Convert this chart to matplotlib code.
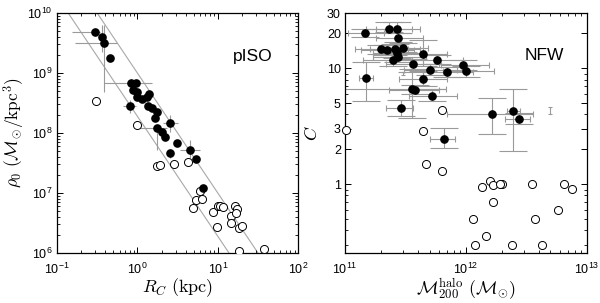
import numpy as np
import matplotlib
matplotlib.use("Agg")
import matplotlib.pyplot as plt
from matplotlib.ticker import FixedLocator, FixedFormatter, LogLocator, NullFormatter

plt.rcParams["font.family"] = ["Liberation Sans", "DejaVu Sans"]
plt.rcParams["mathtext.fontset"] = "cm"

# ---------------- pISO (left) ----------------
rc_fill = [0.296, 0.359, 0.387, 0.455, 0.823, 0.958, 0.887, 0.99, 0.977, 1.13,
           1.30, 1.39, 0.807, 1.34, 1.50, 1.75, 1.65, 1.73, 2.0, 2.21,
           2.55, 3.14, 2.58, 4.49, 5.33, 6.52]
rho_fill = [4.77e9, 4.03e9, 3.13e9, 1.8e9, 6.73e8, 6.73e8, 5.2e8, 4.88e8, 4.03e8, 3.69e8,
            4.03e8, 4.47e8, 2.82e8, 2.77e8, 2.58e8, 2.27e8, 1.76e8, 1.2e8, 1.05e8, 8.68e7,
            1.49e8, 6.73e7, 4.59e7, 5.31e7, 3.76e7, 1.22e7]

rc_open = [0.303, 0.994, 1.77, 1.89, 2.88, 4.21, 6.01, 5.43, 6.29, 4.93,
           8.75, 10.1, 10.8, 11.6, 9.86, 16.5, 17.4, 14.7, 16.7, 14.4,
           18.2, 19.9, 18.3, 37.6]
rho_open = [3.42e8, 1.37e8, 2.85e7, 2.93e7, 3.01e7, 3.25e7, 1.08e7, 7.64e6, 8.04e6, 5.69e6,
            4.77e6, 6.0e6, 6.07e6, 5.91e6, 2.73e6, 6.07e6, 5.47e6, 4.09e6, 4.59e6, 3.2e6,
            2.66e6, 2.87e6, 1.08e6, 1.17e6]

# error bars for some filled points: index, R low/high, rho low/high
err_idx = [0, 1, 2, 4, 12, 17, 20, 22, 23]
err_rlo = [0.153, 0.359, 0.167, 0.384, 0.66, 1.07, 2.07, 2.58, 3.37]
err_rhi = [0.342, 0.359, 0.556, 1.51, 0.957, 2.32, 3.18, 2.58, 5.97]
err_dlo = [4.77e9, 2.24e9, 4.8e8, 6.73e8, 2.15e8, 5.2e7, 1.04e8, 3.9e7, 3.8e7]
err_dhi = [4.77e9, 6.3e9, 6.3e9, 6.73e8, 3.55e8, 1.2e8, 2.0e8, 5.4e7, 7.6e7]

# guide lines rho = A * R^-2
line_amp = [1.0e9, 1.9e8]
line_r = [0.05, 200.0]

# ---------------- NFW (right) ----------------
m_fill = [1.46e11, 2.32e11, 2.71e11, 2.76e11, 1.97e11, 2.24e11, 2.59e11, 3.0e11, 2.71e11, 2.76e11,
          2.48e11, 4.38e11, 5.79e11, 3.66e11, 9.5e11, 1.0e12, 5.04e11, 6.92e11, 1.48e11, 4.43e11,
          3.56e11, 3.79e11, 5.24e11, 2.92e11, 6.58e11, 1.65e12, 2.46e12, 2.74e12]
c_fill = [20.2, 22.0, 22.0, 18.4, 14.6, 14.5, 14.8, 15.1, 13.6, 12.5,
          11.7, 13.4, 11.9, 10.8, 10.6, 9.5, 9.75, 9.29, 8.31, 8.15,
          6.68, 6.55, 5.82, 4.58, 2.48, 4.07, 4.26, 3.63]
c_lo = [18.5, 20.5, 20.0, 16.8, 13.3, 13.0, 13.3, 13.7, 12.3, 11.3,
        10.5, 10.5, 10.8, 9.8, 9.6, 8.5, 8.8, 8.4, 5.2, 7.0,
        3.7, 6.0, 5.2, 3.9, 2.04, 2.7, 1.92, 3.29]
c_hi = [21.7, 25.0, 25.0, 20.0, 16.0, 16.0, 16.3, 16.7, 15.0, 13.8,
        13.0, 17.5, 13.0, 12.0, 11.7, 10.5, 10.8, 10.3, 11.3, 9.5,
        9.3, 7.2, 6.6, 5.3, 3.04, 5.5, 6.6, 4.09]
m_lo = [1.05e11, 1.5e11, 1.8e11, 1.8e11, 1.2e11, 1.35e11, 1.6e11, 1.9e11, 1.7e11, 1.7e11,
        1.4e11, 2.8e11, 3.6e11, 2.2e11, 6.2e11, 6.5e11, 3.1e11, 4.4e11, 1.3e11, 2.8e11,
        0.9e11, 2.3e11, 3.4e11, 2.2e11, 5.0e11, 7.0e11, 2.2e12, 2.1e12]
m_hi = [2.1e11, 3.6e11, 4.2e11, 4.4e11, 3.3e11, 3.7e11, 4.2e11, 4.9e11, 4.6e11, 4.7e11,
        4.4e11, 7.0e11, 9.5e11, 6.0e11, 1.55e12, 1.7e12, 8.5e11, 1.15e12, 1.7e11, 7.0e11,
        6.9e11, 6.0e11, 8.5e11, 3.66e11, 8.1e11, 3.6e12, 2.8e12, 3.4e12]

# error bars drawn without a marker
m_bare = [3.0e11, 4.94e12]
c_bare = [9.06, 4.3]
c_bare_lo = [8.8, 4.0]
c_bare_hi = [9.3, 4.6]

m_open = [1.02e11, 6.3e11, 4.43e11, 4.67e11, 6.3e11, 1.58e12, 1.37e12, 1.66e12, 1.97e12, 1.92e12,
          3.53e12, 6.49e12, 7.48e12, 1.68e12, 5.79e12, 1.15e12, 3.71e12, 1.48e12, 1.19e12, 2.39e12,
          4.3e12]
c_open = [2.96, 4.37, 2.86, 1.48, 1.29, 1.07, 0.94, 0.98, 1.0, 1.0,
          1.0, 1.0, 0.918, 0.705, 0.597, 0.499, 0.499, 0.356, 0.298, 0.298,
          0.298]

c_ticks = [1, 2, 3, 5, 10, 20, 30]

gray = "#9a9a9a"

fig = plt.figure(figsize=(6.0, 3.03), dpi=100)
ax1 = fig.add_axes([0.095, 0.165, 0.402, 0.792])
ax2 = fig.add_axes([0.575, 0.165, 0.403, 0.792])

# ---- left ----
for amp in line_amp:
    r = np.array(line_r)
    ax1.plot(r, amp * r ** -2.0, color="#a8a8a8", lw=0.8, zorder=1)

ex = np.array([rc_fill[i] for i in err_idx])
ey = np.array([rho_fill[i] for i in err_idx])
ax1.errorbar(ex, ey,
             xerr=[ex - np.array(err_rlo), np.array(err_rhi) - ex],
             yerr=[ey - np.array(err_dlo), np.array(err_dhi) - ey],
             fmt="none", ecolor=gray, elinewidth=0.8, capsize=0, zorder=2)
ax1.plot(rc_open, rho_open, "o", mfc="white", mec="black", ms=5.8, mew=0.7, zorder=3)
ax1.plot(rc_fill, rho_fill, "o", color="black", ms=5.2, zorder=4)

ax1.set_xscale("log")
ax1.set_yscale("log")
ax1.set_xlim(0.1, 100)
ax1.set_ylim(1e6, 1e10)
ax1.xaxis.set_major_locator(FixedLocator([0.1, 1, 10, 100]))
ax1.xaxis.set_major_formatter(FixedFormatter([r"$\mathregular{10^{-1}}$", r"$\mathregular{10^{0}}$",
                                              r"$\mathregular{10^{1}}$", r"$\mathregular{10^{2}}$"]))
ax1.yaxis.set_major_locator(FixedLocator([1e6, 1e7, 1e8, 1e9, 1e10]))
ax1.yaxis.set_major_formatter(FixedFormatter([r"$\mathregular{10^{%d}}$" % k for k in range(6, 11)]))
ax1.text(0.73, 0.82, "pISO", transform=ax1.transAxes, fontsize=12.5, ha="left", va="center")
ax1.set_xlabel(r"$R_C\ (\mathrm{kpc})$", fontsize=13, labelpad=0)
ax1.set_ylabel(r"$\rho_0\ (\mathcal{M}_{\odot}/\mathrm{kpc}^3)$", fontsize=12.5, labelpad=0)

# ---- right ----
mf = np.array(m_fill)
cf = np.array(c_fill)
ax2.errorbar(mf, cf, xerr=[mf - np.array(m_lo), np.array(m_hi) - mf],
             fmt="none", ecolor=gray, elinewidth=0.8, capsize=2, capthick=0.8, zorder=2)
ax2.errorbar(mf, cf, yerr=[cf - np.array(c_lo), np.array(c_hi) - cf],
             fmt="none", ecolor=gray, elinewidth=0.8, capsize=10, capthick=0.8, zorder=2)
cb = np.array(c_bare)
ax2.errorbar(m_bare, cb, yerr=[cb - np.array(c_bare_lo), np.array(c_bare_hi) - cb],
             fmt="none", ecolor=gray, elinewidth=0.8, capsize=1.5, capthick=0.8, zorder=2)
ax2.plot(m_open, c_open, "o", mfc="white", mec="black", ms=5.8, mew=0.7, zorder=3, clip_on=False)
ax2.plot(m_fill, c_fill, "o", color="black", ms=5.2, zorder=4)

ax2.set_xscale("log")
ax2.set_yscale("log")
ax2.set_xlim(1e11, 1e13)
ax2.set_ylim(0.255, 30)
ax2.xaxis.set_major_locator(FixedLocator([1e11, 1e12, 1e13]))
ax2.xaxis.set_major_formatter(FixedFormatter([r"$\mathregular{10^{11}}$", r"$\mathregular{10^{12}}$",
                                              r"$\mathregular{10^{13}}$"]))
ax2.yaxis.set_major_locator(FixedLocator(c_ticks))
ax2.yaxis.set_major_formatter(FixedFormatter([str(t) for t in c_ticks]))
ax2.yaxis.set_minor_locator(LogLocator(base=10, subs=np.arange(2, 10)))
ax2.yaxis.set_minor_formatter(NullFormatter())
ax2.text(0.825, 0.825, "NFW", transform=ax2.transAxes, fontsize=12.5, ha="center", va="center")
ax2.set_xlabel(r"$\mathcal{M}_{200}^{\mathrm{halo}}\ (\mathcal{M}_{\odot})$", fontsize=13, labelpad=0)
ax2.set_ylabel(r"$C$", fontsize=13, labelpad=4)

for ax in (ax1, ax2):
    ax.tick_params(which="both", direction="in", top=True, right=True, labelsize=9)
    ax.tick_params(axis="x", which="both", pad=6)
    ax.tick_params(axis="y", which="both", pad=3)
    ax.tick_params(which="major", length=4, width=0.7)
    ax.tick_params(which="minor", length=2.2, width=0.6)
    for s in ax.spines.values():
        s.set_linewidth(0.9)

fig.savefig("out.png", dpi=100)
